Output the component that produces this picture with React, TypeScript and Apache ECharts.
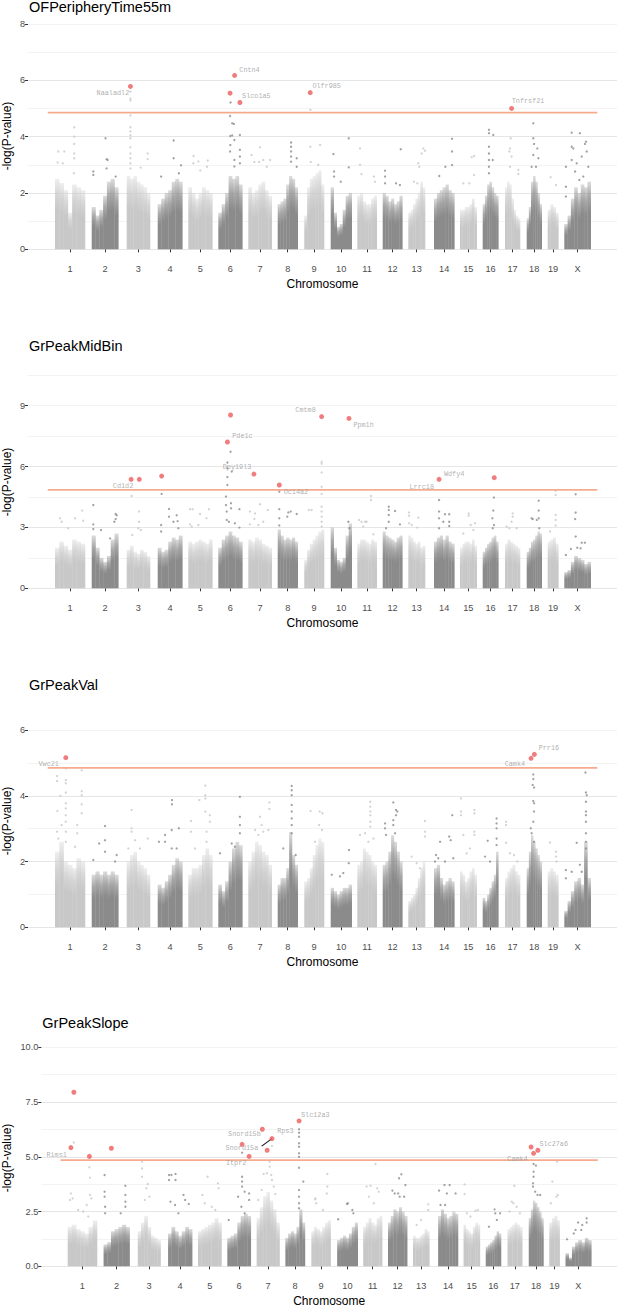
import React, { useEffect, useRef } from "react";
import * as echarts from "echarts";

type Pt = [number, number, number]; // chromosome index, relative position in chromosome, -log10(p)
type Lab = [string, number, number, number, "left" | "right" | "center"];

const CHROMS = ["1", "2", "3", "4", "5", "6", "7", "8", "9", "10", "11", "12", "13", "14", "15", "16", "17", "18", "19", "X"];
// cumulative genome coordinate (arbitrary units) of each chromosome's first and last marker
const CHROM_START = [55, 91.7, 126.7, 157.7, 188.3, 218.3, 248.3, 277.7, 304.3, 330.7, 357.3, 382.7, 408.3, 434, 460, 482.7, 505, 526.7, 547.7, 564.3];
const CHROM_END = [85, 118.3, 150, 182.3, 212.3, 242.3, 271.7, 297.7, 324, 351.7, 376.7, 402.3, 425, 454.3, 476.7, 498.3, 520, 541.7, 558.3, 590.7];
const GENOME_MIN = 28;
const GENOME_MAX = 617;
const THRESHOLD = 4.85;
const THRESHOLD_FROM = 47.7;
const THRESHOLD_TO = 597.3;

// ---------- Panel 1: OFPeripheryTime55m ----------
const P1_TITLE = "OFPeripheryTime55m";
const P1_YTICKS = [0, 2, 4, 6, 8];
const P1_BINS: number[][] = [
  [2.5, 2.35, 2.1, 1.3, 2.3, 2.2, 2.1],
  [1.5, 1.2, 1.4, 1.9, 2.4, 2.5, 2.2],
  [2.6, 2.5, 2.6, 2.4, 2.3, 2.2, 2.0],
  [1.6, 1.8, 2.0, 2.1, 2.4, 2.5, 2.4],
  [2.2, 2.0, 1.8, 2.0, 2.2, 2.1, 2.0],
  [1.3, 1.6, 2.0, 2.6, 2.5, 2.6, 2.3],
  [2.2, 2.0, 2.1, 2.3, 2.4, 2.1, 1.9],
  [1.6, 1.7, 1.8, 2.3, 2.6, 2.5, 2.2],
  [1.2, 2.2, 2.5, 2.6, 2.7, 2.8, 2.3],
  [2.2, 1.3, 0.8, 0.9, 1.4, 1.9, 2.0],
  [1.9, 2.0, 1.7, 1.6, 1.6, 1.8, 1.9],
  [2.0, 1.9, 1.7, 1.8, 1.6, 1.7, 1.9],
  [1.3, 1.4, 1.6, 1.8, 2.0, 2.4, 2.2],
  [1.8, 2.0, 2.1, 2.2, 2.3, 2.1, 2.0],
  [1.4, 1.4, 1.5, 1.5, 1.6, 1.8, 1.5],
  [1.6, 1.9, 2.3, 2.4, 2.2, 2.0, 1.9],
  [2.2, 2.4, 2.3, 1.8, 1.4, 1.2, 1.1],
  [1.1, 1.5, 2.4, 2.6, 2.4, 2.0, 1.6],
  [1.4, 1.6, 1.5, 1.3],
  [0.9, 1.2, 1.8, 2.2, 2.0, 2.3, 2.2, 2.4],
];
const P1_DOTS: Pt[] = [
  [0, 0.09, 3.08], [0, 0.11, 3.47], [0, 0.31, 3.47], [0, 0.26, 3.05], [0, 0.64, 4.33], [0, 0.64, 4.0], [0, 0.64, 3.74], [0, 0.64, 3.4], [0, 0.64, 3.23], [0, 0.63, 2.7],
  [1, 0.06, 2.76], [1, 0.06, 2.64], [1, 0.52, 3.94], [1, 0.56, 3.2], [1, 0.6, 3.17], [1, 0.56, 2.87], [1, 0.9, 2.58],
  [2, 0.16, 5.6], [2, 0.16, 5.35], [2, 0.16, 5.28], [2, 0.16, 4.75], [2, 0.16, 4.33], [2, 0.16, 4.18], [2, 0.16, 4.05], [2, 0.16, 3.94], [2, 0.16, 3.62], [2, 0.16, 3.4], [2, 0.16, 3.23], [2, 0.16, 3.05], [2, 0.16, 2.87], [2, 0.9, 3.4], [2, 0.9, 3.2], [2, 0.6, 2.9],
  [3, 0.65, 3.86], [3, 0.65, 3.23], [3, 0.86, 2.7], [3, 0.95, 2.98], [3, 0.14, 2.58],
  [4, 0.22, 3.31], [4, 0.42, 3.12], [4, 0.5, 2.8], [4, 0.81, 3.15], [4, 0.78, 2.93], [4, 0.21, 3.05],
  [5, 0.51, 5.21], [5, 0.49, 4.73], [5, 0.58, 4.47], [5, 0.65, 4.45], [5, 0.5, 4.02], [5, 0.58, 4.04], [5, 0.67, 3.88], [5, 0.9, 4.06], [5, 0.49, 3.47], [5, 0.67, 3.17], [5, 0.67, 2.94], [5, 0.9, 3.53], [5, 0.9, 3.29], [5, 0.9, 3.05], [5, 0.5, 3.7],
  [6, 0.14, 3.35], [6, 0.26, 3.1], [6, 0.5, 3.62], [6, 0.46, 3.1], [6, 0.64, 3.17], [6, 0.93, 3.17], [6, 0.79, 2.93],
  [7, 0.67, 3.79], [7, 0.67, 3.64], [7, 0.67, 3.47], [7, 0.67, 3.29], [7, 0.67, 3.11], [7, 0.95, 3.23], [7, 0.95, 2.93],
  [8, 0.31, 4.95], [8, 0.31, 3.64], [8, 0.8, 3.7], [8, 0.33, 3.1], [8, 0.71, 3.0],
  [9, 0.13, 3.38], [9, 0.16, 2.76], [9, 0.16, 2.58], [9, 0.48, 2.4], [9, 0.86, 3.94], [9, 0.86, 2.91],
  [10, 0.14, 3.58], [10, 0.14, 3.0], [10, 0.22, 2.67], [10, 0.86, 2.58], [10, 0.91, 2.4],
  [11, 0.12, 2.79], [11, 0.12, 2.58], [11, 0.12, 2.34], [11, 0.92, 3.55], [11, 0.68, 2.34], [11, 0.88, 2.28],
  [12, 0.6, 3.05], [12, 0.66, 2.93], [12, 0.9, 3.58], [12, 1.0, 3.5], [12, 0.8, 3.4], [12, 0.34, 2.4], [12, 0.54, 2.34],
  [13, 0.89, 3.92], [13, 0.89, 3.47], [13, 0.89, 2.99], [13, 0.56, 2.93], [13, 0.26, 2.6],
  [14, 0.7, 3.27], [14, 0.84, 3.31], [14, 0.84, 2.64], [14, 0.56, 2.34], [14, 0.2, 2.34],
  [15, 0.4, 4.24], [15, 0.4, 4.12], [15, 0.4, 3.64], [15, 0.4, 3.4], [15, 0.4, 3.17], [15, 0.4, 2.93], [15, 0.4, 2.7], [15, 0.68, 4.06], [15, 0.64, 3.17],
  [16, 0.38, 3.94], [16, 0.33, 3.58], [16, 0.29, 3.47], [16, 0.44, 3.29], [16, 0.89, 2.82], [16, 0.89, 2.67], [16, 0.33, 2.93],
  [17, 0.44, 4.47], [17, 0.44, 3.94], [17, 0.49, 3.74], [17, 0.71, 3.58], [17, 0.78, 3.23], [17, 0.44, 3.35], [17, 0.62, 2.93], [17, 0.33, 2.93],
  [18, 0.28, 2.56], [18, 0.78, 2.28],
  [19, 0.28, 4.14], [19, 0.59, 4.12], [19, 0.28, 3.64], [19, 0.34, 3.58], [19, 0.82, 3.82], [19, 0.78, 3.74], [19, 0.85, 3.47], [19, 0.06, 2.93], [19, 0.28, 3.17], [19, 0.47, 3.05], [19, 0.66, 3.29], [19, 0.91, 2.93], [19, 0.41, 2.76], [19, 0.72, 2.58], [19, 0.06, 2.22], [19, 0.57, 2.46], [19, 0.06, 1.87],
];
const P1_HITS: Pt[] = [[2, 0.16, 5.78], [5, 0.49, 5.54], [5, 0.68, 6.17], [5, 0.9, 5.21], [8, 0.3, 5.56], [16, 0.44, 5.0]];
const P1_LABELS: Lab[] = [
  ["Naaladl2", 2, 0.11, 5.54, "right"],
  ["Cntn4", 5, 0.875, 6.36, "left"],
  ["Slco1a5", 5, 0.99, 5.44, "left"],
  ["Olfr985", 8, 0.41, 5.8, "left"],
  ["Tnfrsf21", 16, 0.45, 5.26, "left"],
];

// ---------- Panel 2: GrPeakMidBin ----------
const P2_TITLE = "GrPeakMidBin";
const P2_YTICKS = [0, 3, 6, 9];
const P2_BINS: number[][] = [
  [2.0, 2.3, 2.1, 1.9, 2.4, 2.3, 2.2],
  [2.6, 2.0, 1.5, 1.3, 1.6, 2.4, 2.7],
  [1.9, 2.1, 1.8, 1.7, 1.9, 1.8, 1.6],
  [2.0, 1.8, 1.9, 2.3, 2.5, 2.4, 2.6],
  [2.3, 2.2, 2.3, 2.4, 2.3, 2.2, 2.4],
  [2.0, 2.4, 2.6, 2.8, 2.6, 2.5, 2.3],
  [2.4, 2.3, 2.5, 2.4, 2.2, 2.1, 2.0],
  [2.9, 2.6, 2.4, 2.5, 2.4, 2.5, 2.3],
  [1.4, 1.9, 2.2, 2.4, 2.6, 2.8, 2.9],
  [3.0, 2.0, 1.4, 1.3, 1.5, 2.6, 3.2],
  [2.2, 2.4, 2.4, 2.3, 2.2, 2.4, 2.3],
  [2.8, 2.6, 2.5, 2.4, 2.3, 2.5, 2.6],
  [2.6, 2.5, 2.3, 2.2, 2.3, 2.0, 2.1],
  [2.3, 2.5, 2.6, 2.4, 2.6, 2.3, 2.2],
  [2.0, 2.2, 2.3, 2.3, 2.2, 2.4, 2.1],
  [1.8, 2.0, 2.2, 2.3, 2.5, 2.6, 2.3],
  [2.2, 2.4, 2.3, 2.2, 2.1, 2.0],
  [1.8, 2.0, 2.3, 2.4, 2.6, 2.8, 2.7],
  [2.3, 2.4, 2.5, 2.2],
  [0.8, 0.9, 1.3, 1.6, 1.5, 1.4, 1.2, 1.3],
];
const P2_DOTS: Pt[] = [
  [0, 0.17, 3.45], [0, 0.22, 3.28], [0, 0.67, 3.45], [0, 0.91, 3.83], [0, 0.94, 3.33], [0, 0.44, 2.96],
  [1, 0.06, 4.1], [1, 0.06, 3.15], [1, 0.06, 2.92], [1, 0.9, 3.66], [1, 0.9, 3.41], [1, 0.94, 3.6], [1, 0.85, 3.28], [1, 0.69, 2.46], [1, 0.35, 2.87],
  [2, 0.21, 4.55], [2, 0.53, 3.78], [2, 0.53, 3.28], [2, 0.5, 2.96], [2, 0.61, 2.87], [2, 0.24, 2.63],
  [3, 0.16, 4.65], [3, 0.46, 3.91], [3, 0.46, 3.53], [3, 0.77, 3.6], [3, 0.81, 3.31], [3, 0.84, 2.96], [3, 0.14, 3.12], [3, 0.14, 2.8], [3, 0.64, 3.28],
  [4, 0.07, 3.9], [4, 0.18, 3.9], [4, 0.49, 3.66], [4, 0.86, 3.9], [4, 0.07, 3.15], [4, 0.14, 3.04], [4, 0.76, 3.45], [4, 0.42, 3.12],
  [5, 0.51, 6.73], [5, 0.38, 6.2], [5, 0.38, 5.91], [5, 0.56, 5.75], [5, 0.38, 5.48], [5, 0.38, 5.09], [5, 0.32, 4.52], [5, 0.32, 4.1], [5, 0.35, 3.78], [5, 0.53, 4.19], [5, 0.53, 3.94], [5, 0.35, 3.37], [5, 0.44, 3.28], [5, 0.88, 3.9], [5, 0.88, 2.99], [5, 0.69, 3.2],
  [6, 0.5, 4.14], [6, 0.07, 3.78], [6, 0.29, 3.69], [6, 0.26, 3.41], [6, 0.83, 3.86], [6, 0.64, 3.28], [6, 0.43, 3.12], [6, 0.07, 3.15],
  [7, 0.08, 4.76], [7, 0.08, 3.9], [7, 0.08, 3.45], [7, 0.08, 3.1], [7, 0.53, 3.74], [7, 0.65, 3.78], [7, 0.48, 3.53], [7, 0.95, 3.66],
  [8, 0.88, 6.24], [8, 0.88, 6.14], [8, 0.88, 5.71], [8, 0.88, 5.0], [8, 0.88, 4.65], [8, 0.88, 4.02], [8, 0.88, 3.78], [8, 0.88, 3.53], [8, 0.88, 3.28], [8, 0.88, 3.04], [8, 0.23, 3.86], [8, 0.37, 3.86],
  [9, 0.84, 3.28], [9, 0.89, 2.96],
  [10, 0.71, 4.55], [10, 0.71, 4.35], [10, 0.09, 3.37], [10, 0.22, 3.28], [10, 0.4, 3.28], [10, 0.48, 3.28], [10, 0.31, 3.04], [10, 0.83, 2.66],
  [11, 0.31, 4.02], [11, 0.31, 3.86], [11, 0.31, 3.61], [11, 0.31, 3.28], [11, 0.63, 3.81], [11, 0.88, 3.15], [11, 0.17, 2.96],
  [12, 0.04, 3.74], [12, 0.04, 3.58], [12, 0.04, 3.2], [12, 0.6, 3.48], [12, 0.54, 2.99], [12, 0.2, 3.12],
  [13, 0.25, 4.35], [13, 0.25, 3.78], [13, 0.25, 3.45], [13, 0.54, 3.65], [13, 0.75, 3.65], [13, 0.75, 3.28], [13, 0.75, 3.07], [13, 0.25, 2.96], [13, 0.46, 3.28],
  [14, 0.52, 3.69], [14, 0.52, 3.58], [14, 0.9, 3.2], [14, 0.8, 2.87], [14, 0.2, 2.7], [14, 0.64, 3.12],
  [15, 0.72, 4.47], [15, 0.68, 3.83], [15, 0.62, 3.45], [15, 0.72, 3.12], [15, 0.64, 2.96],
  [16, 0.51, 3.69], [16, 0.51, 3.53], [16, 0.11, 3.04], [16, 0.29, 2.96], [16, 0.78, 2.96], [16, 0.44, 3.28],
  [17, 0.8, 4.32], [17, 0.8, 3.83], [17, 0.8, 3.45], [17, 0.67, 3.37], [17, 0.33, 3.45], [17, 0.4, 3.41], [17, 0.84, 2.96],
  [18, 0.75, 4.81], [18, 0.75, 4.6], [18, 0.75, 3.61], [18, 0.75, 3.37], [18, 0.75, 3.09], [18, 0.22, 2.8],
  [19, 0.43, 4.63], [19, 0.43, 3.73], [19, 0.41, 3.41], [19, 0.43, 2.55], [19, 0.66, 2.25], [19, 0.78, 2.25], [19, 0.62, 1.97], [19, 0.06, 1.64], [19, 0.25, 1.94], [19, 0.49, 2.0],
];
const P2_HITS: Pt[] = [[2, 0.19, 5.37], [2, 0.54, 5.37], [3, 0.16, 5.53], [5, 0.51, 8.54], [5, 0.38, 7.21], [6, 0.24, 5.63], [7, 0.08, 5.09], [8, 0.88, 8.46], [9, 0.87, 8.37], [13, 0.25, 5.37], [15, 0.74, 5.45]];
const P2_LABELS: Lab[] = [
  ["Cd1d2", 2, 0.28, 5.06, "right"],
  ["Pde1c", 5, 0.58, 7.52, "left"],
  ["Dpy19l3", 5, 0.78, 5.96, "center"],
  ["Oc14a2", 7, 0.3, 4.75, "left"],
  ["Cmtm8", 8, 0.58, 8.78, "right"],
  ["Ppm1h", 9, 1.08, 8.05, "left"],
  ["Wdfy4", 13, 0.49, 5.65, "left"],
  ["Lrrc18", 13, 0.0, 5.01, "right"],
];

// ---------- Panel 3: GrPeakVal ----------
const P3_TITLE = "GrPeakVal";
const P3_YTICKS = [0, 2, 4, 6];
const P3_BINS: number[][] = [
  [2.3, 2.6, 2.0, 1.9, 1.8, 2.1, 2.0],
  [1.6, 1.7, 1.6, 1.7, 1.6, 1.7, 1.6],
  [2.0, 2.2, 2.3, 2.0, 1.9, 1.8, 1.6],
  [1.3, 1.2, 1.4, 1.6, 1.9, 2.1, 2.0],
  [1.6, 1.8, 1.8, 1.9, 2.2, 2.4, 2.2],
  [1.3, 1.1, 1.4, 2.0, 2.4, 2.6, 2.5],
  [2.0, 2.3, 2.6, 2.5, 2.3, 2.2, 1.9],
  [1.3, 1.5, 1.5, 1.8, 2.9, 2.2, 1.9],
  [1.4, 1.5, 1.8, 2.2, 2.5, 2.7, 2.6],
  [1.2, 1.1, 1.0, 1.1, 1.2, 1.2, 1.3],
  [1.9, 2.0, 2.4, 2.3, 2.2, 2.0, 1.9],
  [1.9, 2.0, 2.3, 2.8, 2.6, 2.3, 2.0],
  [0.8, 0.9, 1.0, 1.2, 1.5, 1.8, 2.0],
  [1.8, 1.9, 1.5, 1.3, 1.4, 1.5, 1.4],
  [1.7, 1.6, 1.4, 1.5, 1.7, 1.8, 1.6],
  [0.9, 0.8, 1.0, 1.2, 1.4, 1.6, 2.3],
  [1.5, 1.7, 1.8, 1.9, 1.7, 1.6],
  [1.8, 2.3, 2.8, 2.6, 2.4, 2.2, 2.0],
  [1.7, 1.8, 1.7, 1.6],
  [0.5, 0.8, 1.1, 1.4, 1.5, 1.3, 2.6, 1.5],
];
const P3_DOTS: Pt[] = [
  [0, 0.36, 4.83], [0, 0.07, 4.6], [0, 0.07, 4.45], [0, 0.36, 4.48], [0, 0.36, 4.38], [0, 0.36, 4.1], [0, 0.89, 4.78], [0, 0.89, 4.14], [0, 0.89, 4.02], [0, 0.89, 3.74], [0, 0.89, 3.47], [0, 0.18, 4.0], [0, 0.08, 3.54], [0, 0.36, 3.77], [0, 0.36, 3.62], [0, 0.36, 3.41], [0, 0.36, 3.21], [0, 0.07, 2.91], [0, 0.11, 2.7], [0, 0.74, 3.11], [0, 0.74, 2.86], [0, 0.67, 2.45], [0, 0.22, 3.11], [0, 0.36, 2.91], [0, 0.36, 2.6],
  [1, 0.5, 3.08], [1, 0.5, 2.65], [1, 0.28, 2.55], [1, 0.06, 2.05], [1, 0.5, 2.3], [1, 0.94, 2.2], [1, 0.88, 2.0],
  [2, 0.21, 3.57], [2, 0.21, 3.01], [2, 0.21, 2.91], [2, 0.07, 2.4], [2, 0.9, 2.7], [2, 0.36, 2.65], [2, 0.57, 2.4],
  [3, 0.58, 3.87], [3, 0.58, 3.74], [3, 0.86, 3.01], [3, 0.57, 2.96], [3, 0.3, 2.6], [3, 0.05, 2.6], [3, 0.57, 2.4], [3, 0.77, 2.4], [3, 0.3, 2.81],
  [4, 0.71, 4.31], [4, 0.71, 4.02], [4, 0.71, 3.92], [4, 0.46, 3.87], [4, 0.71, 3.52], [4, 0.11, 3.23], [4, 0.11, 2.91], [4, 0.9, 3.41], [4, 0.9, 3.21], [4, 0.76, 2.91], [4, 0.76, 2.6], [4, 0.28, 2.4],
  [5, 0.9, 3.97], [5, 0.9, 3.36], [5, 0.9, 3.11], [5, 0.9, 2.86], [5, 0.07, 2.25], [5, 0.56, 2.55], [5, 0.69, 2.45],
  [6, 0.9, 3.8], [6, 0.9, 3.6], [6, 0.5, 3.36], [6, 0.57, 3.11], [6, 0.29, 2.96], [6, 0.86, 2.96], [6, 0.64, 2.91], [6, 0.43, 2.81],
  [7, 0.7, 4.3], [7, 0.7, 4.17], [7, 0.7, 4.02], [7, 0.7, 3.72], [7, 0.7, 3.52], [7, 0.7, 3.31], [7, 0.7, 3.11], [7, 0.7, 2.86], [7, 0.28, 2.4], [7, 0.9, 2.2],
  [8, 0.32, 3.54], [8, 0.92, 3.47], [8, 0.75, 3.11], [8, 0.78, 3.52], [8, 0.9, 2.96], [8, 0.55, 2.6],
  [9, 0.87, 2.35], [9, 0.86, 1.95], [9, 0.05, 1.6], [9, 0.6, 1.65], [9, 0.44, 1.55],
  [10, 0.67, 3.82], [10, 0.67, 3.67], [10, 0.67, 3.52], [10, 0.67, 3.41], [10, 0.67, 3.21], [10, 0.67, 3.06], [10, 0.14, 2.81], [10, 0.4, 2.86], [10, 0.83, 2.7], [10, 0.57, 2.6],
  [11, 0.54, 3.8], [11, 0.68, 3.57], [11, 0.75, 3.52], [11, 0.68, 3.41], [11, 0.12, 3.16], [11, 0.12, 3.01], [11, 0.17, 2.81], [11, 0.54, 3.26], [11, 0.54, 3.11], [11, 0.63, 2.86],
  [12, 1.0, 3.23], [12, 1.0, 2.91], [12, 1.0, 2.76], [12, 0.7, 1.8], [12, 0.2, 2.15], [12, 0.5, 1.95],
  [13, 0.9, 3.41], [13, 0.75, 2.76], [13, 0.82, 2.65], [13, 0.1, 2.2], [13, 0.21, 2.1], [13, 0.05, 2.0], [13, 0.3, 2.6], [13, 0.54, 2.0], [13, 0.95, 2.1],
  [14, 0.06, 3.92], [14, 0.06, 3.52], [14, 0.06, 3.41], [14, 0.86, 3.57], [14, 0.86, 3.47], [14, 0.86, 2.91], [14, 0.86, 2.81], [14, 0.4, 2.25], [14, 0.6, 2.4], [14, 0.2, 2.81],
  [15, 0.89, 3.31], [15, 0.89, 3.16], [15, 0.89, 3.01], [15, 0.89, 2.7], [15, 0.89, 2.5], [15, 0.32, 2.63], [15, 0.15, 2.15], [15, 0.47, 2.0],
  [16, 0.07, 3.21], [16, 0.07, 3.11], [16, 0.07, 2.57], [16, 0.33, 2.25], [16, 0.6, 2.2], [16, 0.82, 2.0],
  [17, 0.44, 4.65], [17, 0.44, 4.51], [17, 0.4, 4.33], [17, 0.49, 4.25], [17, 0.44, 3.84], [17, 0.49, 3.77], [17, 0.49, 3.52], [17, 0.44, 3.21], [17, 0.27, 3.01], [17, 0.33, 2.86], [17, 0.49, 2.6],
  [18, 0.22, 2.58], [18, 0.78, 2.3], [18, 0.78, 2.15], [18, 0.84, 2.0],
  [19, 0.8, 4.71], [19, 0.82, 4.1], [19, 0.85, 4.02], [19, 0.82, 3.82], [19, 0.82, 3.52], [19, 0.82, 3.41], [19, 0.82, 3.21], [19, 0.82, 2.86], [19, 0.82, 2.6], [19, 0.82, 2.4], [19, 0.47, 2.57], [19, 0.28, 1.69], [19, 0.06, 1.74], [19, 0.06, 1.49], [19, 0.59, 1.9], [19, 0.66, 1.69],
];
const P3_HITS: Pt[] = [[0, 0.36, 5.16], [17, 0.29, 5.14], [17, 0.51, 5.26]];
const P3_LABELS: Lab[] = [
  ["Vwc21", 0, 0.13, 4.96, "right"],
  ["Prr16", 17, 0.8, 5.46, "left"],
  ["Camk4", 17, -0.11, 4.96, "right"],
];

// ---------- Panel 4: GrPeakSlope ----------
const P4_TITLE = "GrPeakSlope";
const P4_YTICKS = [0, 2.5, 5, 7.5, 10];
const P4_BINS: number[][] = [
  [1.8, 1.9, 1.7, 1.6, 1.5, 1.8, 2.1],
  [1.0, 1.1, 1.6, 1.7, 1.8, 1.9, 1.8],
  [1.6, 2.0, 2.3, 1.8, 1.4, 1.3, 1.2],
  [1.5, 1.8, 1.6, 1.4, 1.6, 1.8, 1.7],
  [1.6, 1.7, 1.8, 1.9, 2.0, 2.2, 2.0],
  [1.3, 1.4, 1.5, 2.0, 2.3, 2.4, 2.3],
  [2.2, 2.7, 3.2, 3.4, 3.0, 2.6, 2.0],
  [1.3, 1.5, 1.6, 1.5, 1.8, 2.6, 2.0],
  [1.6, 1.8, 1.7, 1.6, 1.8, 2.0, 2.1],
  [1.2, 1.3, 1.4, 1.3, 1.5, 1.8, 2.0],
  [1.8, 2.0, 2.2, 2.0, 1.9, 2.2, 2.3],
  [2.0, 2.3, 2.6, 2.5, 2.7, 2.5, 2.3],
  [1.4, 1.3, 1.3, 1.4, 1.5, 1.7, 1.6],
  [2.3, 2.6, 2.4, 2.2, 2.3, 2.5, 2.4],
  [1.9, 1.7, 1.6, 1.5, 1.8, 2.0, 1.9],
  [0.9, 1.0, 1.1, 1.2, 1.4, 1.6, 1.5],
  [1.7, 1.8, 1.9, 2.0, 1.9, 1.8],
  [2.2, 2.6, 3.0, 2.9, 2.7, 2.5, 2.2],
  [2.0, 2.2, 2.3, 2.1],
  [0.6, 0.4, 0.9, 1.1, 1.2, 1.1, 1.3, 1.2],
];
const P4_DOTS: Pt[] = [
  [0, 0.21, 5.65], [0, 0.74, 4.52], [0, 0.76, 4.05], [0, 0.11, 3.33], [0, 0.17, 3.1], [0, 0.08, 3.03], [0, 0.76, 3.26], [0, 0.81, 3.1], [0, 0.65, 2.8], [0, 0.7, 2.27], [0, 0.36, 2.57], [0, 0.53, 2.5],
  [1, 0.04, 4.17], [1, 0.04, 3.41], [1, 0.04, 3.18], [1, 0.06, 2.72], [1, 0.06, 2.42], [1, 0.84, 3.68], [1, 0.84, 3.26], [1, 0.84, 2.95], [1, 0.84, 2.72], [1, 0.66, 2.42],
  [2, 0.19, 4.78], [2, 0.19, 4.47], [2, 0.19, 4.09], [2, 0.44, 3.76], [2, 0.38, 3.56], [2, 0.31, 3.03], [2, 0.51, 3.18],
  [3, 0.04, 4.17], [3, 0.14, 4.17], [3, 0.31, 4.22], [3, 0.04, 3.94], [3, 0.31, 3.94], [3, 0.1, 2.95], [3, 0.29, 2.8], [3, 0.64, 3.26], [3, 0.71, 3.03], [3, 0.86, 2.85], [3, 0.43, 2.42],
  [4, 0.41, 4.09], [4, 0.19, 3.26], [4, 0.29, 2.88], [4, 0.85, 3.79], [4, 0.88, 3.56], [4, 0.59, 2.72], [4, 0.74, 2.57],
  [5, 0.63, 5.19], [5, 0.63, 4.09], [5, 0.63, 3.87], [5, 0.63, 3.64], [5, 0.74, 3.41], [5, 0.93, 3.33], [5, 0.93, 3.03], [5, 0.46, 3.18], [5, 0.6, 2.72], [5, 0.74, 2.42], [5, 0.06, 2.12],
  [6, 0.67, 5.5], [6, 0.57, 4.78], [6, 0.57, 4.55], [6, 0.45, 4.25], [6, 0.31, 4.22], [6, 0.64, 4.17], [6, 0.67, 3.94], [6, 0.82, 3.3], [6, 0.75, 3.64], [6, 0.22, 3.49], [6, 0.07, 3.03],
  [7, 0.7, 6.26], [7, 0.7, 6.1], [7, 0.7, 5.92], [7, 0.7, 5.62], [7, 0.7, 5.46], [7, 0.7, 5.16], [7, 0.7, 5.0], [7, 0.7, 4.5], [7, 0.92, 3.87], [7, 0.7, 3.49], [7, 0.7, 3.18], [7, 0.7, 2.88], [7, 0.7, 2.65],
  [8, 0.83, 4.22], [8, 0.83, 3.64], [8, 0.8, 3.33], [8, 0.2, 3.06], [8, 0.25, 2.88], [8, 0.6, 2.57], [8, 0.21, 3.1],
  [9, 0.48, 2.85], [9, 0.52, 2.88], [9, 0.74, 2.57], [9, 0.79, 2.42], [9, 0.05, 2.15],
  [10, 0.65, 4.67], [10, 0.18, 3.64], [10, 0.39, 3.68], [10, 0.74, 3.56], [10, 0.82, 3.41], [10, 0.3, 3.18], [10, 0.56, 2.88],
  [11, 0.7, 4.2], [11, 0.58, 4.02], [11, 0.91, 3.71], [11, 0.23, 3.46], [11, 0.35, 3.33], [11, 0.53, 3.33], [11, 0.61, 3.18], [11, 0.84, 3.18],
  [12, 0.93, 2.83], [12, 0.93, 2.57], [12, 0.5, 2.12], [12, 0.22, 1.89],
  [13, 0.05, 3.46], [13, 0.32, 3.71], [13, 0.58, 3.71], [13, 0.44, 3.33], [13, 0.88, 3.33], [13, 0.12, 2.8], [13, 0.35, 2.8],
  [14, 0.06, 3.74], [14, 0.06, 3.3], [14, 0.73, 2.54], [14, 0.88, 2.57], [14, 0.42, 2.27], [14, 0.21, 2.42],
  [15, 0.58, 2.6], [15, 0.63, 2.42], [15, 0.94, 2.42], [15, 0.73, 2.12], [15, 0.21, 1.81],
  [16, 0.47, 3.68], [16, 0.29, 2.95], [16, 0.4, 2.88], [16, 0.62, 2.72], [16, 0.84, 2.42], [16, 0.13, 2.5],
  [17, 0.33, 4.67], [17, 0.49, 4.6], [17, 0.33, 4.32], [17, 0.33, 4.09], [17, 0.29, 3.79], [17, 0.29, 3.64], [17, 0.44, 3.41], [17, 0.6, 3.26], [17, 0.78, 3.26],
  [18, 0.76, 4.78], [18, 0.3, 3.87], [18, 0.7, 3.18], [18, 0.82, 3.26], [18, 0.15, 2.88],
  [19, 0.06, 1.23], [19, 0.49, 2.0], [19, 0.82, 2.19], [19, 0.82, 2.0], [19, 0.65, 1.89], [19, 0.61, 1.66], [19, 0.39, 1.66], [19, 0.32, 1.5],
];
const P4_HITS: Pt[] = [[0, 0.21, 7.95], [0, 0.11, 5.42], [0, 0.74, 5.02], [1, 0.3, 5.39], [5, 0.63, 5.57], [5, 0.93, 5.02], [6, 0.25, 6.26], [6, 0.67, 5.83], [6, 0.46, 5.3], [7, 0.7, 6.64], [17, 0.16, 5.45], [17, 0.33, 5.16], [17, 0.62, 5.3]];
const P4_LABELS: Lab[] = [
  ["Rims1", 0, -0.03, 5.08, "right"],
  ["Snord15b", 6, 0.18, 6.04, "right"],
  ["Rps3", 6, 0.9, 6.19, "left"],
  ["Snord15a", 6, 0.07, 5.42, "right"],
  ["Itpr2", 5, 0.81, 4.7, "right"],
  ["Slc12a3", 7, 0.8, 6.93, "left"],
  ["Slc27a6", 17, 0.73, 5.59, "left"],
  ["Camk4", 17, -0.07, 4.89, "right"],
];
const P4_LEADERS: [Pt, Pt][] = [[[6, 0.22, 5.49], [6, 0.67, 5.83]]];

const PANELS = [
  { title: P1_TITLE, yTicks: P1_YTICKS, bins: P1_BINS, dots: P1_DOTS, hits: P1_HITS, labels: P1_LABELS, leaders: [] as [Pt, Pt][] },
  { title: P2_TITLE, yTicks: P2_YTICKS, bins: P2_BINS, dots: P2_DOTS, hits: P2_HITS, labels: P2_LABELS, leaders: [] as [Pt, Pt][] },
  { title: P3_TITLE, yTicks: P3_YTICKS, bins: P3_BINS, dots: P3_DOTS, hits: P3_HITS, labels: P3_LABELS, leaders: [] as [Pt, Pt][] },
  { title: P4_TITLE, yTicks: P4_YTICKS, bins: P4_BINS, dots: P4_DOTS, hits: P4_HITS, labels: P4_LABELS, leaders: P4_LEADERS },
];

// layout (pixels) and axis ranges per panel
const LAYOUT = [
  { top: 12.6, height: 236.7, left: 28, yMax: 8.4, minor: 1, decimals: 0, titleY: 7, yTitleY: 136, xTitleY: 284 },
  { top: 367.1, height: 221.2, left: 28, yMax: 10.9, minor: 1.5, decimals: 0, titleY: 345.6, yTitleY: 482, xTitleY: 623 },
  { top: 720.2, height: 207.1, left: 28, yMax: 6.3, minor: 1, decimals: 0, titleY: 685, yTitleY: 821, xTitleY: 962 },
  { top: 1036.4, height: 229.9, left: 41.3, yMax: 10.5, minor: 1.25, decimals: 1, titleY: 1023.2, yTitleY: 1158, xTitleY: 1300.5 },
];

const LIGHT = "#C8C8C8";
const DARK = "#8B8B8B";
const RED = "#EC5C5C";
const THR_COLOR = "#F5AB8E";
const SANS = '"Liberation Sans", Arial, sans-serif';
const MONO = '"Liberation Mono", "DejaVu Sans Mono", monospace';

const chromColor = (c: number) => (c % 2 === 0 ? LIGHT : DARK);
const gx = (c: number, rel: number) => CHROM_START[c] + rel * (CHROM_END[c] - CHROM_START[c]);
const MIDS = CHROM_START.map((s, i) => (s + CHROM_END[i]) / 2);

function hexA(hex: string, a: number) {
  const n = parseInt(hex.slice(1), 16);
  return `rgba(${(n >> 16) & 255},${(n >> 8) & 255},${n & 255},${a})`;
}

function buildOption() {
  const grid: any[] = [];
  const xAxis: any[] = [];
  const yAxis: any[] = [];
  const series: any[] = [];
  const graphic: any[] = [];

  PANELS.forEach((p, i) => {
    const L = LAYOUT[i];
    grid.push({ left: L.left, right: 0, top: L.top, height: L.height, containLabel: false });
    xAxis.push({
      type: "value",
      gridIndex: i,
      min: GENOME_MIN,
      max: GENOME_MAX,
      offset: 10.5,
      axisLine: { show: false },
      splitLine: { show: false },
      axisTick: { show: true, length: 3, customValues: MIDS, lineStyle: { color: "#333333", width: 1 } },
      axisLabel: {
        show: true,
        customValues: MIDS,
        margin: 5,
        color: "#4D4D4D",
        fontSize: 9.2,
        fontFamily: SANS,
        formatter: (v: number) => {
          let best = 0;
          MIDS.forEach((m, k) => {
            if (Math.abs(m - v) < Math.abs(MIDS[best] - v)) best = k;
          });
          return CHROMS[best];
        },
      },
    });
    // minor grid axis
    yAxis.push({
      type: "value",
      gridIndex: i,
      position: "left",
      min: 0,
      max: L.yMax,
      interval: L.minor,
      axisLine: { show: false },
      axisTick: { show: false },
      axisLabel: { show: false },
      splitLine: { show: true, showMaxLine: false, lineStyle: { color: "#EEEEEE", width: 0.7 } },
    });
    // labelled axis
    yAxis.push({
      type: "value",
      gridIndex: i,
      position: "left",
      min: 0,
      max: L.yMax,
      interval: L.minor,
      axisLine: { show: false },
      axisTick: { show: true, length: 3, customValues: p.yTicks, lineStyle: { color: "#333333", width: 1 } },
      axisLabel: {
        show: true,
        customValues: p.yTicks,
        margin: 3,
        color: "#4D4D4D",
        fontSize: 9.2,
        fontFamily: SANS,
        formatter: (v: number) => v.toFixed(L.decimals),
      },
      splitLine: { show: true, showMaxLine: false, lineStyle: { color: "#E6E6E6", width: 1 } },
    });
    const yIdx = 2 * i + 1;

    // dense marker mass, one block per bin of each chromosome
    const binData: number[][] = [];
    p.bins.forEach((tops, c) => {
      const w = (CHROM_END[c] - CHROM_START[c]) / tops.length;
      tops.forEach((t, k) => {
        binData.push([CHROM_START[c] + k * w, CHROM_START[c] + (k + 1) * w, t, c]);
      });
    });
    series.push({
      type: "custom",
      xAxisIndex: i,
      yAxisIndex: yIdx,
      z: 1,
      silent: true,
      encode: { x: [0, 1], y: 2 },
      data: binData,
      renderItem: (params: any, api: any) => {
        const x0 = api.value(0);
        const x1 = api.value(1);
        const top = api.value(2);
        const c = api.value(3);
        const a = api.coord([x0, top]);
        const b = api.coord([x1, 0]);
        const col = chromColor(c);
        return {
          type: "rect",
          shape: { x: a[0], y: a[1], width: b[0] - a[0] + 0.3, height: b[1] - a[1] },
          style: {
            fill: new echarts.graphic.LinearGradient(0, 0, 0, 1, [
              { offset: 0, color: hexA(col, 0.3) },
              { offset: 0.22, color: hexA(col, 0.75) },
              { offset: 0.45, color: hexA(col, 1) },
              { offset: 1, color: hexA(col, 1) },
            ]),
          },
        };
      },
    });

    // individual markers above the mass
    series.push({
      type: "scatter",
      xAxisIndex: i,
      yAxisIndex: yIdx,
      z: 2,
      silent: true,
      symbolSize: 2.3,
      encode: { x: 0, y: 1 },
      itemStyle: { color: (prm: any) => chromColor(prm.value[2]) },
      data: p.dots.map(([c, r, v]) => [gx(c, r), v, c]),
    });

    // suggestive threshold
    series.push({
      type: "line",
      xAxisIndex: i,
      yAxisIndex: yIdx,
      z: 3,
      silent: true,
      symbol: "none",
      lineStyle: { color: THR_COLOR, width: 1.6 },
      data: [[THRESHOLD_FROM, THRESHOLD], [THRESHOLD_TO, THRESHOLD]],
    });

    // leader lines
    p.leaders.forEach(([s, e]) => {
      series.push({
        type: "line",
        xAxisIndex: i,
        yAxisIndex: yIdx,
        z: 4,
        silent: true,
        symbol: "none",
        lineStyle: { color: "#111111", width: 1.1 },
        data: [[gx(s[0], s[1]), s[2]], [gx(e[0], e[1]), e[2]]],
      });
    });

    // significant hits
    series.push({
      type: "scatter",
      xAxisIndex: i,
      yAxisIndex: yIdx,
      z: 5,
      silent: true,
      symbolSize: 5,
      itemStyle: { color: RED },
      data: p.hits.map(([c, r, v]) => [gx(c, r), v]),
    });

    // gene labels
    series.push({
      type: "scatter",
      xAxisIndex: i,
      yAxisIndex: yIdx,
      z: 6,
      silent: true,
      symbolSize: 0,
      itemStyle: { color: "transparent" },
      data: p.labels.map(([t, c, r, v, al]) => ({
        value: [gx(c, r), v],
        label: {
          show: true,
          formatter: t,
          position: [0, 0],
          align: al,
          verticalAlign: "middle",
          color: "#9A9A9A",
          fontSize: 6.8,
          fontFamily: MONO,
        },
      })),
    });

    // titles
    graphic.push({
      type: "text",
      x: L.left + 1,
      y: L.titleY,
      silent: true,
      style: { text: p.title, fill: "#000000", fontSize: 14.5, fontFamily: SANS, align: "left", verticalAlign: "middle" },
    });
    graphic.push({
      type: "text",
      x: 7,
      y: L.yTitleY,
      rotation: Math.PI / 2,
      silent: true,
      style: { text: "-log(P-value)", fill: "#000000", fontSize: 12, fontFamily: SANS, align: "center", verticalAlign: "middle" },
    });
    graphic.push({
      type: "text",
      x: (L.left + 617) / 2,
      y: L.xTitleY,
      silent: true,
      style: { text: "Chromosome", fill: "#000000", fontSize: 12, fontFamily: SANS, align: "center", verticalAlign: "middle" },
    });
  });

  return {
    animation: false,
    backgroundColor: "#FFFFFF",
    grid,
    xAxis,
    yAxis,
    series,
    graphic,
  };
}

export default function App() {
  const ref = useRef<HTMLDivElement>(null);
  useEffect(() => {
    document.body.style.margin = "0";
    if (!ref.current) return;
    const chart = echarts.init(ref.current, undefined, { renderer: "svg" });
    chart.setOption(buildOption() as any);
    return () => chart.dispose();
  }, []);
  return <div ref={ref} style={{ width: 617, height: 1306 }} />;
}
